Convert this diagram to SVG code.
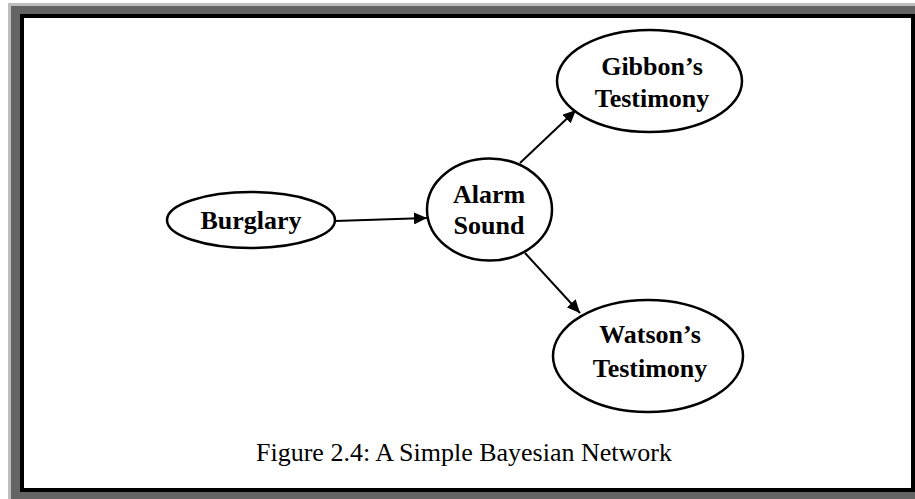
<svg xmlns="http://www.w3.org/2000/svg" width="915" height="499" viewBox="0 0 915 499">
  <style>
    .node ellipse { fill: #ffffff; stroke: #000000; stroke-width: 2.5; }
    .node text { font-family: "Liberation Serif", "Times New Roman", serif; font-weight: bold; font-size: 26px; fill: #000000; text-anchor: middle; }
    .edge { stroke: #000000; stroke-width: 2; fill: none; marker-end: url(#arrow); }
    .caption { font-family: "Liberation Serif", "Times New Roman", serif; font-size: 26px; fill: #000000; }
  </style>
  <defs>
    <marker id="arrow" markerUnits="userSpaceOnUse" markerWidth="14" markerHeight="12" refX="13" refY="6" orient="auto">
      <path d="M0,0 L13,6 L0,12 Z" fill="#000000"/>
    </marker>
  </defs>

  <!-- shadowed frame -->
  <rect x="8" y="3" width="907" height="496" fill="#bdbdbd"/>
  <rect x="11" y="6" width="904" height="493" fill="#646464"/>
  <rect x="20" y="14" width="895" height="478" fill="#000000"/>
  <rect x="24" y="18" width="887" height="470" fill="#ffffff"/>

  <!-- connectors -->
  <g id="edges">
    <line class="edge" x1="335" y1="221" x2="427" y2="218"/>
    <line class="edge" x1="520" y1="163" x2="576" y2="110"/>
    <line class="edge" x1="525" y1="253" x2="580" y2="313"/>
  </g>

  <g id="burglary" class="node">
    <ellipse cx="251" cy="220" rx="84" ry="28"/>
    <text x="251" y="229">Burglary</text>
  </g>

  <g id="alarm" class="node">
    <ellipse cx="489.5" cy="209.5" rx="62.5" ry="51"/>
    <text x="489" y="203">Alarm</text>
    <text x="489" y="234">Sound</text>
  </g>

  <g id="gibbon" class="node">
    <ellipse cx="649.5" cy="81" rx="92.5" ry="51"/>
    <text x="652" y="75">Gibbon’s</text>
    <text x="652" y="107">Testimony</text>
  </g>

  <g id="watson" class="node">
    <ellipse cx="648" cy="356" rx="95" ry="56"/>
    <text x="650" y="343">Watson’s</text>
    <text x="650" y="377">Testimony</text>
  </g>

  <text class="caption" x="256" y="461">Figure 2.4: A Simple Bayesian Network</text>
</svg>
